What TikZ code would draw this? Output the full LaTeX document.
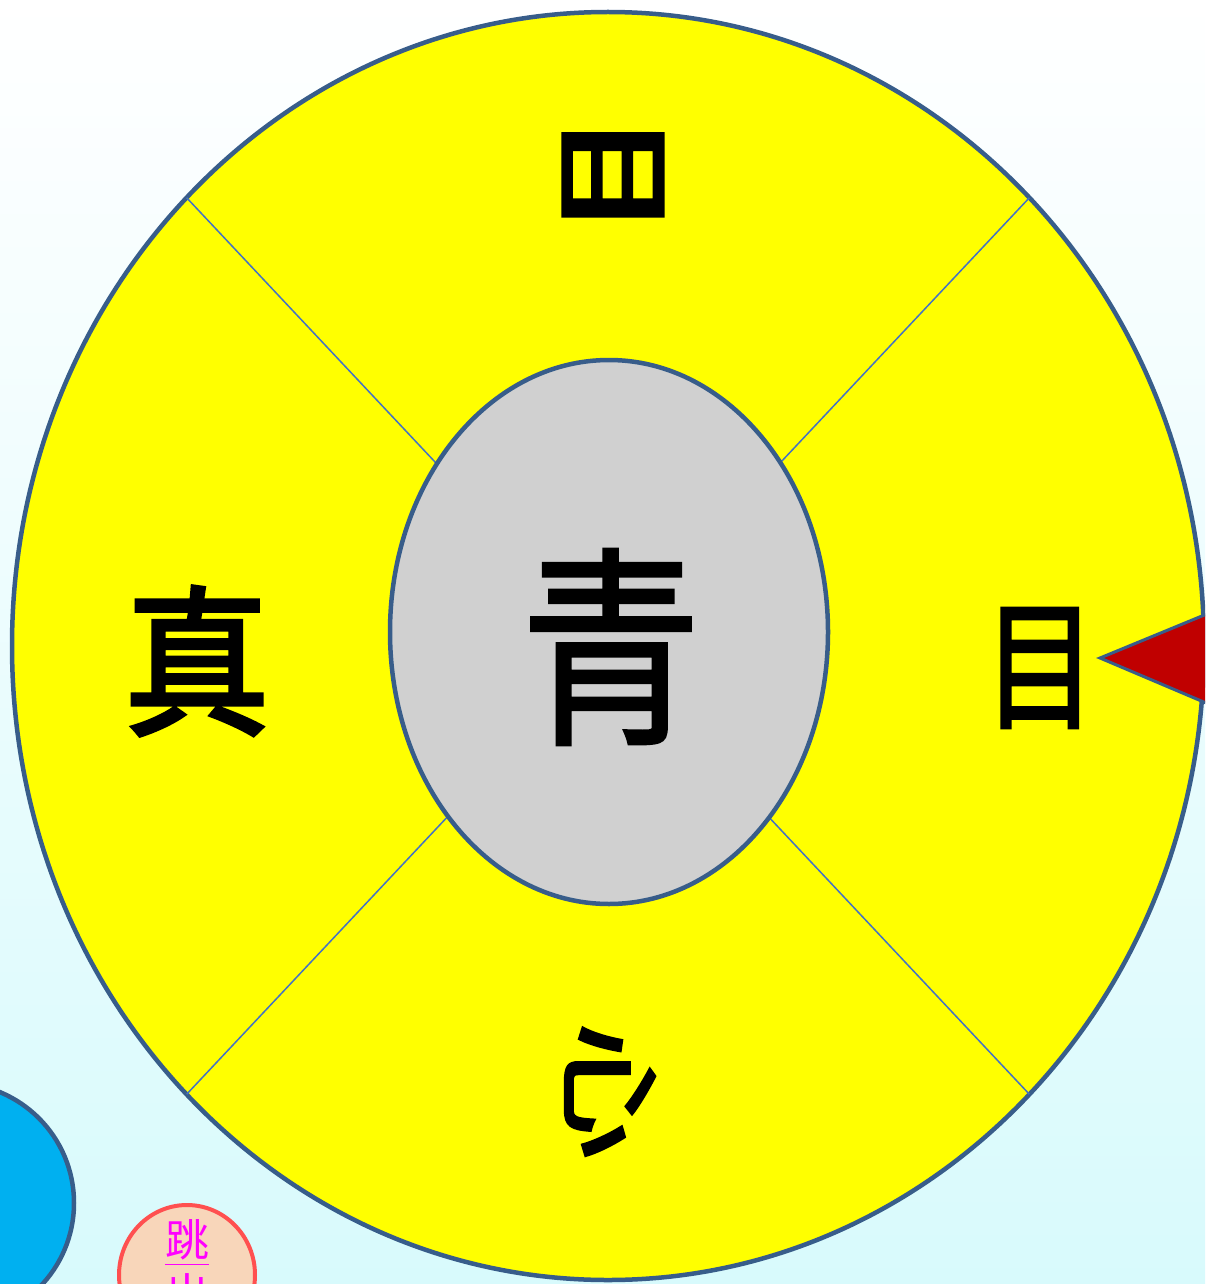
\documentclass[tikz,border=0pt]{standalone}
\usepackage{fontspec}
\newfontfamily\cjk{Noto Sans CJK SC}
\newfontfamily\cjkheavy[FakeBold=2.5]{Noto Sans CJK SC}
\newfontfamily\cjkmid[FakeBold=1.5]{Noto Sans CJK SC}
\definecolor{bgcyan}{RGB}{216,250,252}
\definecolor{bgmid}{RGB}{240,245,246}
\definecolor{wheelyellow}{RGB}{255,255,0}
\definecolor{hubgray}{RGB}{208,208,208}
\definecolor{rimblue}{RGB}{56,93,138}
\definecolor{spokeblue}{RGB}{68,114,196}
\definecolor{pointerred}{RGB}{192,0,0}
\definecolor{ballblue}{RGB}{0,176,240}
\definecolor{peach}{RGB}{248,214,186}
\definecolor{ringred}{RGB}{255,80,80}
\definecolor{linkmag}{RGB}{255,0,255}
\tikzset{
  rim/.style={draw=rimblue, line width=4.5pt},
  spoke/.style={draw=spokeblue, line width=1.5pt},
  glyph/.style={inner sep=0pt, text=black, font=\cjkheavy\fontsize{#1}{#1}\selectfont},
  linktext/.style={inner sep=0pt, text=linkmag, font=\cjk\fontsize{44}{44}\selectfont}
}
\begin{document}
\begin{tikzpicture}[x=1pt,y=-1pt]
\useasboundingbox (0,0) rectangle (1205,1284);
\clip (0,0) rectangle (1205,1284);
\shade[top color=white, middle color=bgmid, bottom color=bgcyan] (0,0) rectangle (1205,1284);

% wheel
\coordinate (c) at (608,646);
\coordinate (hub) at (609,632);
\path[fill=wheelyellow, rim] (c) ellipse [x radius=596pt, y radius=634pt];
\coordinate (ul) at (186.6,197.7);
\coordinate (ur) at (1029.4,197.7);
\coordinate (ll) at (186.6,1094.3);
\coordinate (lr) at (1029.4,1094.3);
\draw[spoke] (ul) -- (c);
\draw[spoke] (ur) -- (c);
\draw[spoke] (ll) -- (c);
\draw[spoke] (lr) -- (c);
\path[fill=hubgray, rim] (hub) ellipse [x radius=219pt, y radius=272pt];

% characters
\node[glyph=128, yscale=1.75] (top) at (613,222) {罒};
\node[glyph=162, xscale=0.9] (left) at (197,661) {真};
\node[glyph=140, xscale=0.8] (right) at (1040,668) {目};
\node[glyph=138, rotate=-90, yscale=0.75] (bottom) at (610,1091) {心};
\node[inner sep=0pt, font=\cjkmid\fontsize{212}{212}\selectfont, xscale=0.85] (mid) at (611,647) {青};

% pointer
\coordinate (tip) at (1100,658);
\coordinate (pu) at (1265,590);
\coordinate (pd) at (1265,728);
\path[fill=pointerred, draw=rimblue, line width=3pt, line join=miter] (tip) -- (pu) -- (pd) -- cycle;

% blue ball
\coordinate (ball) at (-46,1203);
\path[fill=ballblue, rim] (ball) circle [radius=120pt];

% exit button
\coordinate (btn) at (187,1275);
\path[fill=peach, draw=ringred, line width=4pt] (btn) ellipse [x radius=68pt, y radius=70pt];
\node[linktext] (j1) at (187,1240) {跳};
\draw[linkmag, line width=1.5pt] (j1.south west) ++(0,4) -- ([yshift=-4pt]j1.south east);
\node[linktext] (j2) at (187,1294) {出};
\end{tikzpicture}
\end{document}
